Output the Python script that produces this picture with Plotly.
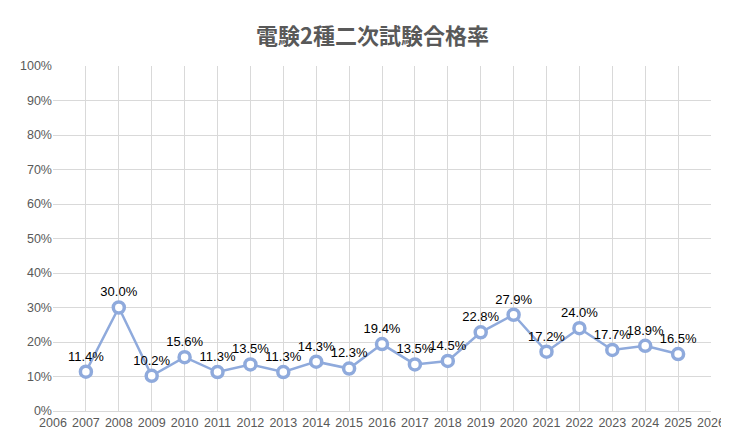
import plotly.graph_objects as go

years = list(range(2007, 2026))
rates = [11.4, 30.0, 10.2, 15.6, 11.3, 13.5, 11.3, 14.3, 12.3, 19.4, 13.5, 14.5, 22.8, 27.9, 17.2, 24.0, 17.7, 18.9, 16.5]
labels = [f"{v:.1f}%" for v in rates]

fig = go.Figure(go.Scatter(
    x=years, y=[v / 100 for v in rates], mode="lines+markers+text",
    text=labels, textposition="top center",
    textfont=dict(size=13, color="#000000", family="Liberation Sans"),
    line=dict(color="#8FAADC", width=2.5),
    marker=dict(size=11, color="white", line=dict(color="#8FAADC", width=3.5)),
    cliponaxis=False,
))
fig.update_layout(
    width=729, height=447, paper_bgcolor="white", plot_bgcolor="white",
    margin=dict(l=45, r=21, t=58, b=44),
    font=dict(family="Liberation Sans", color="#595959"),
    title=dict(text="<b>電験2種二次試験合格率</b>", x=0.5, y=0.955, xanchor="center",
               font=dict(size=22, color="#595959", family="Noto Sans CJK JP")),
    showlegend=False,
)
fig.update_xaxes(range=[2006, 2026], dtick=1, tick0=2006, showgrid=True, gridcolor="#D9D9D9",
                 zeroline=False, showline=True, linecolor="#D9D9D9", ticks="",
                 tickangle=0, tickfont=dict(size=12.5, color="#595959"))
fig.update_yaxes(range=[0, 1], dtick=0.1, tickformat=".0%", showgrid=True, gridcolor="#D9D9D9",
                 zeroline=False, ticks="", tickfont=dict(size=12.5, color="#595959"))
fig.write_html("out.html")
